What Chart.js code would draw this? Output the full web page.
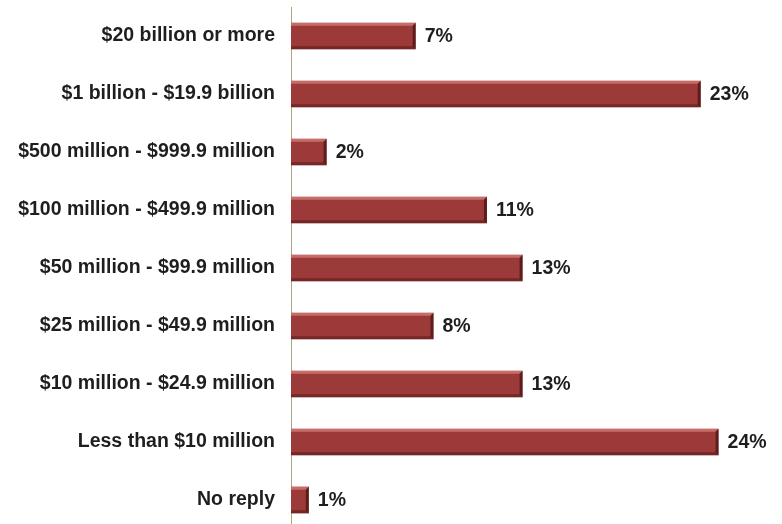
<!DOCTYPE html>
<html>
<head>
<meta charset="utf-8">
<script src="https://cdn.jsdelivr.net/npm/chart.js@4.4.0/dist/chart.umd.min.js"></script>
<style>
  html, body { margin: 0; padding: 0; background: #fff; overflow: hidden; }
  .wrap { width: 782px; height: 529px; position: relative; }
</style>
</head>
<body>
<div class="wrap"><canvas id="chart"></canvas></div>
<script>
const categories = [
  '$20 billion or more',
  '$1 billion - $19.9 billion',
  '$500 million - $999.9 million',
  '$100 million - $499.9 million',
  '$50 million - $99.9 million',
  '$25 million - $49.9 million',
  '$10 million - $24.9 million',
  'Less than $10 million',
  'No reply'
];
const shares = [7, 23, 2, 11, 13, 8, 13, 24, 1];

const FONT = '"Liberation Sans", Arial, sans-serif';

// bevelled look of the bars: light top edge, dark bottom edge and dark right cap
const bevelBars = {
  id: 'bevelBars',
  afterDatasetsDraw(chart) {
    const ctx = chart.ctx;
    chart.getDatasetMeta(0).data.forEach((bar, i) => {
      const x0 = bar.base, x1 = bar.x;
      const y0 = bar.y - bar.height / 2, y1 = bar.y + bar.height / 2;
      const b = 3;
      ctx.save();
      // top highlight
      ctx.fillStyle = 'rgba(235,150,145,0.55)';
      ctx.beginPath();
      ctx.moveTo(x0, y0); ctx.lineTo(x1, y0); ctx.lineTo(x1 - b, y0 + b); ctx.lineTo(x0, y0 + b);
      ctx.closePath(); ctx.fill();
      // bottom shade
      ctx.fillStyle = 'rgba(70,15,15,0.45)';
      ctx.beginPath();
      ctx.moveTo(x0, y1); ctx.lineTo(x1, y1); ctx.lineTo(x1 - b, y1 - b); ctx.lineTo(x0, y1 - b);
      ctx.closePath(); ctx.fill();
      // right cap
      ctx.fillStyle = 'rgba(50,10,10,0.6)';
      ctx.beginPath();
      ctx.moveTo(x1, y0); ctx.lineTo(x1, y1); ctx.lineTo(x1 - b, y1 - b); ctx.lineTo(x1 - b, y0 + b);
      ctx.closePath(); ctx.fill();
      // value label
      ctx.fillStyle = '#1e1e1e';
      ctx.font = 'bold 19.5px ' + FONT;
      ctx.textBaseline = 'middle';
      ctx.textAlign = 'left';
      ctx.fillText(shares[i] + '%', x1 + 9, bar.y + 1);
      ctx.restore();
    });
  }
};

new Chart(document.getElementById('chart'), {
  type: 'bar',
  data: {
    labels: categories,
    datasets: [{
      data: shares,
      backgroundColor: '#9c3a39',
      borderWidth: 0,
      categoryPercentage: 1,
      barPercentage: 0.46
    }]
  },
  plugins: [bevelBars],
  options: {
    indexAxis: 'y',
    responsive: true,
    maintainAspectRatio: false,
    animation: false,
    layout: { padding: { top: 7, right: 10, bottom: 0, left: 0 } },
    plugins: {
      legend: { display: false },
      tooltip: { enabled: false }
    },
    scales: {
      x: {
        display: false,
        min: 0,
        max: 27
      },
      y: {
        afterFit(scale) {
          scale.width = 291;
          scale.paddingTop = 0;
          scale.paddingBottom = 0;
        },
        grid: { display: false, drawTicks: false },
        border: { color: '#aaa680', width: 1 },
        ticks: {
          color: '#1e1e1e',
          padding: 16,
          font: { family: FONT, size: 19.5, weight: 'bold' }
        }
      }
    }
  }
});
</script>
</body>
</html>
